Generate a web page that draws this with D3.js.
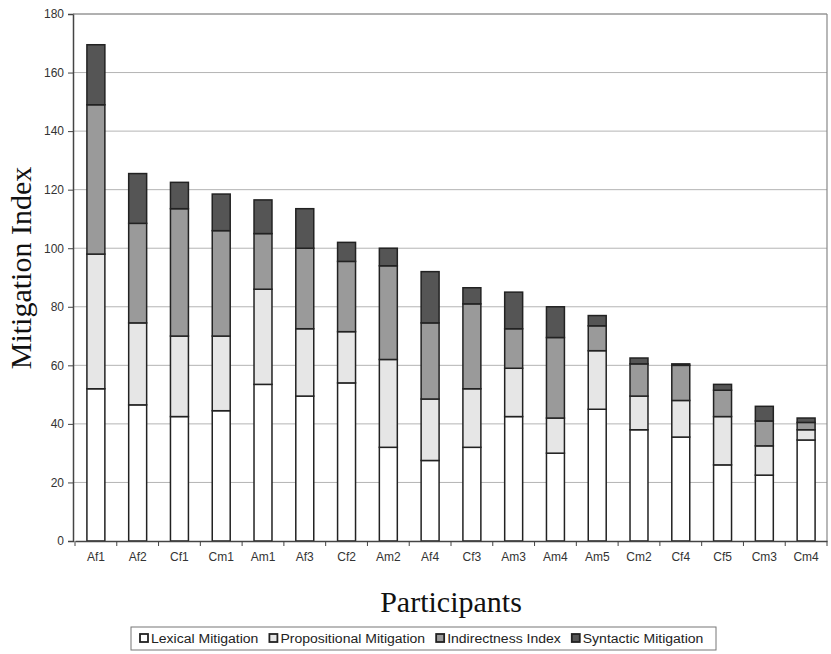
<!DOCTYPE html>
<html>
<head>
<meta charset="utf-8">
<script src="https://cdn.jsdelivr.net/npm/d3@7"></script>
<style>
body { margin: 0; background: #fff; }
text { font-family: Arial, "Liberation Sans", sans-serif; }
</style>
</head>
<body>
<script>
var participants = ["Af1","Af2","Cf1","Cm1","Am1","Af3","Cf2","Am2","Af4","Cf3","Am3","Am4","Am5","Cm2","Cf4","Cf5","Cm3","Cm4"];
var seriesNames = ["Lexical Mitigation","Propositional Mitigation","Indirectness Index","Syntactic Mitigation"];
var lexical       = [52, 46.5, 42.5, 44.5, 53.5, 49.5, 54, 32, 27.5, 32, 42.5, 30, 45, 38, 35.5, 26, 22.5, 34.5];
var propositional = [46, 28, 27.5, 25.5, 32.5, 23, 17.5, 30, 21, 20, 16.5, 12, 20, 11.5, 12.5, 16.5, 10, 3.5];
var indirectness  = [51, 34, 43.5, 36, 19, 27.5, 24, 32, 26, 29, 13.5, 27.5, 8.5, 11, 12, 9, 8.5, 2.5];
var syntactic     = [20.5, 17, 9, 12.5, 11.5, 13.5, 6.5, 6, 17.5, 5.5, 12.5, 10.5, 3.5, 2, 0.5, 2, 5, 1.5];
var yTicks = [0, 20, 40, 60, 80, 100, 120, 140, 160, 180];

var colors = ["#ffffff", "#e6e6e6", "#9a9a9a", "#555555"];

var margin = {top: 14, right: 4, bottom: 113, left: 73},
	width = 831 - margin.left - margin.right,
	height = 654 - margin.top - margin.bottom;

var rows = participants.map(function(p, i) {
	return {name: p, s0: lexical[i], s1: propositional[i], s2: indirectness[i], s3: syntactic[i]};
});
var stack = d3.stack().keys(["s0","s1","s2","s3"])(rows);

var x = d3.scaleBand()
	.domain(participants)
	.range([2, width])
	.paddingInner(0.57)
	.paddingOuter(0.285);

var y = d3.scaleLinear()
	.domain([0, 180])
	.range([height, 0]);

var svg = d3.select('body')
	.append('svg')
	.attr('width', 831)
	.attr('height', 654);

var main = svg.append('g')
	.attr('transform', 'translate(' + margin.left + ',' + margin.top + ')');

// gridlines
main.append('g')
	.selectAll('line')
	.data(yTicks.slice(1))
	.enter().append('line')
	.attr('x1', 0).attr('x2', width)
	.attr('y1', function(d) { return y(d); })
	.attr('y2', function(d) { return y(d); })
	.attr('stroke', '#b4b4b4')
	.attr('stroke-width', 1);

// right border
main.append('line')
	.attr('x1', width).attr('x2', width)
	.attr('y1', 0).attr('y2', height)
	.attr('stroke', '#888').attr('stroke-width', 1.2);

// bars
var layer = main.selectAll('.layer')
	.data(stack)
	.enter().append('g')
	.attr('fill', function(d, i) { return colors[i]; });

layer.selectAll('rect')
	.data(function(d) { return d; })
	.enter().append('rect')
	.attr('x', function(d) { return x(d.data.name); })
	.attr('width', x.bandwidth())
	.attr('y', function(d) { return y(d[1]); })
	.attr('height', function(d) { return y(d[0]) - y(d[1]); })
	.attr('stroke', '#222')
	.attr('stroke-width', 1.5);

// y axis
var yAxis = d3.axisLeft(y).tickValues(yTicks).tickSize(5).tickPadding(4);
var yg = main.append('g').call(yAxis);
yg.select('.domain').attr('stroke', '#444').attr('stroke-width', 1.5);
yg.selectAll('.tick line').attr('stroke', '#444');
yg.selectAll('text').attr('font-size', 12).attr('fill', '#333')
	.style('font-family', 'Arial, "Liberation Sans", sans-serif');

// x axis
var xAxis = d3.axisBottom(x).tickSize(0).tickPadding(11);
var xg = main.append('g')
	.attr('transform', 'translate(0,' + height + ')')
	.call(xAxis);
xg.select('.domain').attr('stroke', '#444').attr('stroke-width', 1.5);
xg.selectAll('text').attr('font-size', 12).attr('fill', '#333')
	.style('font-family', 'Arial, "Liberation Sans", sans-serif');

// ticks between categories
var step = x.step();
var first = x(participants[0]) - step * x.paddingInner() / 2;
xg.selectAll('.sep')
	.data(d3.range(participants.length + 1))
	.enter().append('line')
	.attr('x1', function(i) { return first + i * step; })
	.attr('x2', function(i) { return first + i * step; })
	.attr('y1', 0).attr('y2', 5)
	.attr('stroke', '#444');

// top border
main.append('line')
	.attr('x1', 0).attr('x2', width)
	.attr('y1', 0).attr('y2', 0)
	.attr('stroke', '#888').attr('stroke-width', 1.2);

// axis titles
svg.append('text')
	.attr('transform', 'rotate(-90)')
	.attr('x', -268)
	.attr('y', 31)
	.attr('text-anchor', 'middle')
	.style('font-family', '"Liberation Serif", "Times New Roman", serif')
	.attr('font-size', 30)
	.attr('fill', '#111')
	.text('Mitigation Index');

svg.append('text')
	.attr('x', 451)
	.attr('y', 612)
	.attr('text-anchor', 'middle')
	.style('font-family', '"Liberation Serif", "Times New Roman", serif')
	.attr('font-size', 30)
	.attr('fill', '#111')
	.text('Participants');

// legend
var legend = svg.append('g');
legend.append('rect')
	.attr('x', 131).attr('y', 627)
	.attr('width', 585).attr('height', 23)
	.attr('fill', '#fff')
	.attr('stroke', '#777').attr('stroke-width', 1);

var cx = 140;
seriesNames.forEach(function(name, i) {
	legend.append('rect')
		.attr('x', cx).attr('y', 634)
		.attr('width', 8).attr('height', 8)
		.attr('fill', colors[i])
		.attr('stroke', '#222').attr('stroke-width', 1.8);
	var t = legend.append('text')
		.attr('x', cx + 11).attr('y', 643)
		.attr('font-size', 12.5)
		.attr('fill', '#222')
		.text(name);
	var w = t.node().getComputedTextLength() * 1.12;
	t.attr('textLength', w).attr('lengthAdjust', 'spacingAndGlyphs');
	cx += 11 + w + 11;
});
</script>
</body>
</html>
